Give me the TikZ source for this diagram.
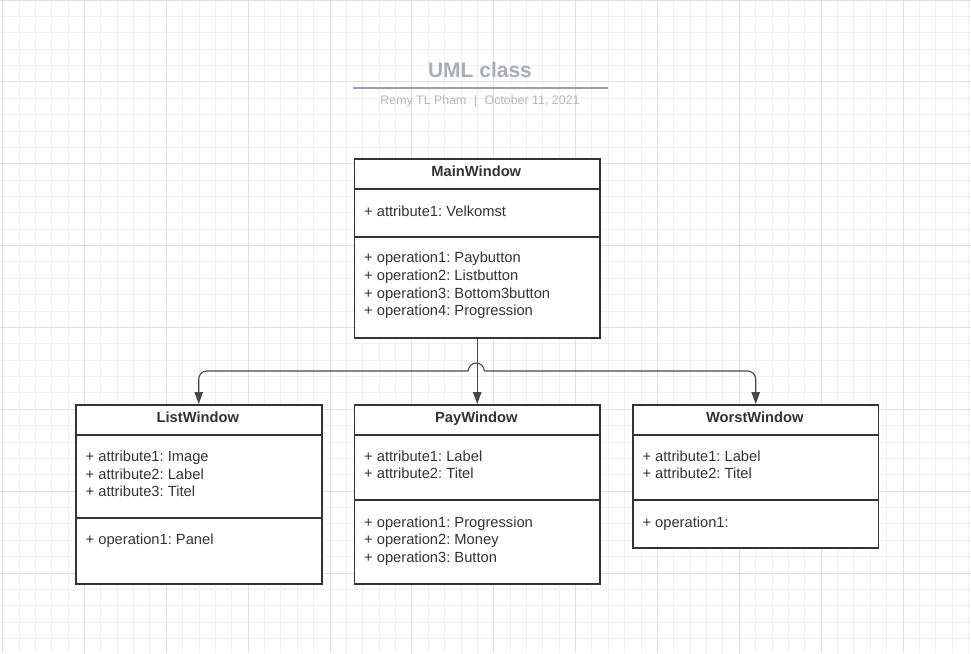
\documentclass[tikz,border=0pt]{standalone}
\usepackage{fontspec}
\setmainfont{Liberation Sans}
\usetikzlibrary{arrows.meta}
\definecolor{ink}{HTML}{333333}
\definecolor{gridminor}{HTML}{F0F0F0}
\definecolor{gridmajor}{HTML}{DEDEDE}
\definecolor{titlecol}{HTML}{A9ADB5}
\definecolor{subcol}{HTML}{B3B6BD}
\definecolor{rulecol}{HTML}{9C9EB0}
\tikzset{
  minorline/.style={draw=gridminor, line width=0.9pt},
  majorline/.style={draw=gridmajor, line width=0.9pt},
  classbox/.style={draw=ink, line width=1.9pt, fill=white, anchor=north west, inner sep=0pt},
  divider/.style={draw=ink, line width=2pt},
  txt/.style={anchor=base west, inner sep=0pt, text=ink, font=\fontsize{14.7}{17.6}\selectfont},
  hdr/.style={anchor=base, inner sep=0pt, text=ink, font=\fontsize{14.7}{17.6}\selectfont\bfseries},
  conn/.style={draw=ink!90, line width=1.1pt},
  tip/.style={-{Triangle[length=12pt,width=8.5pt]}}
}
\begin{document}
\frenchspacing
\begin{tikzpicture}[x=1pt,y=-1pt]
\useasboundingbox (0,0) rectangle (971,653);
\fill[white] (0,0) rectangle (971,653);
% grid
\foreach \i in {0,...,59} \draw[minorline] ({2.6+16.37*\i},0) -- ({2.6+16.37*\i},653);
\foreach \j in {0,...,40} \draw[minorline] (0,{16.37*\j}) -- (971,{16.37*\j});
\foreach \i in {0,...,11} \draw[majorline] ({2.6+81.85*\i},0) -- ({2.6+81.85*\i},653);
\foreach \j in {0,...,7} \draw[majorline] (0,{81.85*\j}) -- (971,{81.85*\j});

% title
\node[anchor=base, inner sep=0pt, text=titlecol, font=\fontsize{21}{24}\selectfont\bfseries] (title) at (480,77.3) {UML class};
\coordinate (ruleL) at (353.3,88);
\coordinate (ruleR) at (607.7,88);
\draw[draw=rulecol, line width=1.1pt] (ruleL) -- (ruleR);
\node[anchor=base, inner sep=0pt, text=subcol, font=\fontsize{12.4}{14}\selectfont] (subtitle) at (480,104.8) {Remy TL Pham\hspace{0.6em}|\hspace{0.6em}October 11, 2021};

% MainWindow
\node[classbox, minimum width=245.5pt, minimum height=178.5pt] (main) at (353.5,158.3) {};
\draw[divider] ([yshift=-30.5pt]main.north west) -- ([yshift=-30.5pt]main.north east);
\draw[divider] ([yshift=-78.4pt]main.north west) -- ([yshift=-78.4pt]main.north east);
\node[hdr] (mainh) at (476.3,176.6) {MainWindow};
\node[txt] (mainA1) at (364,216.8) {+ attribute1: Velkomst};
\node[txt] (mainO1) at (364,262.6) {+ operation1: Paybutton};
\node[txt] (mainO2) at (364,280.3) {+ operation2: Listbutton};
\node[txt] (mainO3) at (364,298.0) {+ operation3: Bottom3button};
\node[txt] (mainO4) at (364,315.6) {+ operation4: Progression};

% ListWindow
\node[classbox, minimum width=246pt, minimum height=179.3pt] (list) at (74.8,404) {};
\draw[divider] ([yshift=-30.8pt]list.north west) -- ([yshift=-30.8pt]list.north east);
\draw[divider] ([yshift=-113.7pt]list.north west) -- ([yshift=-113.7pt]list.north east);
\node[hdr] (listh) at (197.8,422.6) {ListWindow};
\node[txt] (listA1) at (85.5,461.5) {+ attribute1: Image};
\node[txt] (listA2) at (85.5,479.1) {+ attribute2: Label};
\node[txt] (listA3) at (85.5,496.7) {+ attribute3: Titel};
\node[txt] (listO1) at (85.5,544.3) {+ operation1: Panel};

% PayWindow
\node[classbox, minimum width=245.5pt, minimum height=179.3pt] (pay) at (353.5,404) {};
\draw[divider] ([yshift=-30.8pt]pay.north west) -- ([yshift=-30.8pt]pay.north east);
\draw[divider] ([yshift=-95.5pt]pay.north west) -- ([yshift=-95.5pt]pay.north east);
\node[hdr] (payh) at (476.3,422.6) {PayWindow};
\node[txt] (payA1) at (364,461.3) {+ attribute1: Label};
\node[txt] (payA2) at (364,478.9) {+ attribute2: Titel};
\node[txt] (payO1) at (364,527.0) {+ operation1: Progression};
\node[txt] (payO2) at (364,544.6) {+ operation2: Money};
\node[txt] (payO3) at (364,562.2) {+ operation3: Button};

% WorstWindow
\node[classbox, minimum width=245.5pt, minimum height=142.7pt] (worst) at (632,404) {};
\draw[divider] ([yshift=-30.8pt]worst.north west) -- ([yshift=-30.8pt]worst.north east);
\draw[divider] ([yshift=-95.5pt]worst.north west) -- ([yshift=-95.5pt]worst.north east);
\node[hdr] (worsth) at (754.8,422.6) {WorstWindow};
\node[txt] (worstA1) at (642.3,461.3) {+ attribute1: Label};
\node[txt] (worstA2) at (642.3,478.9) {+ attribute2: Titel};
\node[txt] (worstO1) at (642.3,527.0) {+ operation1:};

% connectors
\coordinate (hopL) at (468.3,371);
\coordinate (hopR) at (484.3,371);
\draw[conn, tip] (main.south) -- (pay.north);
\draw[conn, tip, rounded corners=8pt] (hopL) -| (list.north);
\draw[conn] (hopR) arc[start angle=0, end angle=180, radius=8pt];
\draw[conn, tip, rounded corners=8pt] (hopR) -| (worst.north);
\end{tikzpicture}
\end{document}
